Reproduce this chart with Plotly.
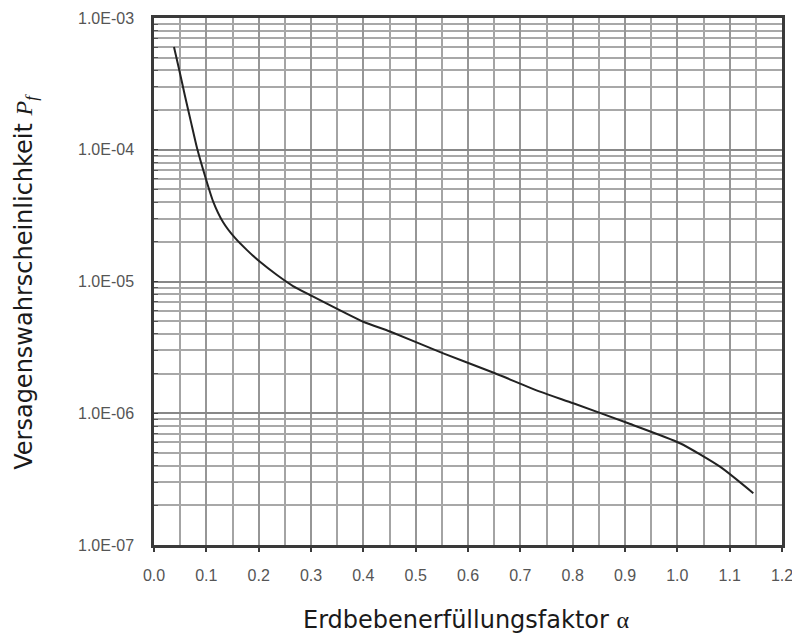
import plotly.graph_objects as go

# Data
alpha = [0.0382, 0.0478, 0.0592, 0.0707, 0.0822, 0.0975, 0.1127, 0.1318, 0.1548, 0.1777,
         0.2025, 0.235, 0.2656, 0.2981, 0.3999, 0.451, 0.5528, 0.6516, 0.7376, 0.8012,
         0.9063, 1.0051, 1.0815, 1.1452]
pf = [6.02e-4, 4.10e-4, 2.56e-4, 1.62e-4, 1.03e-4, 6.32e-5, 4.08e-5, 2.83e-5, 2.14e-5, 1.73e-5,
      1.41e-5, 1.12e-5, 9.24e-6, 7.90e-6, 4.95e-6, 4.17e-6, 2.85e-6, 2.01e-6, 1.46e-6, 1.19e-6,
      8.39e-7, 5.92e-7, 3.93e-7, 2.47e-7]

x_ticks = [0.0, 0.1, 0.2, 0.3, 0.4, 0.5, 0.6, 0.7, 0.8, 0.9, 1.0, 1.1, 1.2]
x_ticktext = ["0.0", "0.1", "0.2", "0.3", "0.4", "0.5", "0.6", "0.7", "0.8", "0.9", "1.0", "1.1", "1.2"]
x_minor = [0.05, 0.15, 0.25, 0.35, 0.45, 0.55, 0.65, 0.75, 0.85, 0.95, 1.05, 1.15]
y_ticks = [1e-7, 1e-6, 1e-5, 1e-4, 1e-3]
y_ticktext = ["1.0E-07", "1.0E-06", "1.0E-05", "1.0E-04", "1.0E-03"]
y_minor = [m * d for d in [1e-7, 1e-6, 1e-5, 1e-4] for m in range(2, 10)]

x_title = "Erdbebenerfüllungsfaktor <span style='font-family:Liberation Serif'>α</span>"
y_title = ("Versagenswahrscheinlichkeit <span style='font-family:Liberation Serif'><i>P</i></span>"
           "<sub><span style='font-family:Liberation Serif'><i>f</i></span></sub>")

fig = go.Figure()
fig.add_trace(go.Scatter(
    x=alpha, y=pf, mode="lines",
    line=dict(color="#222222", width=2, shape="spline", smoothing=0.6),
    showlegend=False, hoverinfo="skip",
))

tickfont = dict(family="Liberation Sans, Arial, sans-serif", size=16, color="#555555")
titlefont = dict(family="DejaVu Sans, sans-serif", size=24, color="#1a1a1a")

# The page body adds an 8px offset; the figure is sized to fit the 800x634 window.
fig.update_layout(
    width=792, height=626,
    margin=dict(l=146, r=18, t=10, b=89),
    paper_bgcolor="white", plot_bgcolor="white",
    xaxis=dict(
        range=[0, 1.2], tickmode="array", tickvals=x_ticks, ticktext=x_ticktext,
        tickfont=tickfont, automargin=False,
        showgrid=True, gridcolor="#969696", gridwidth=2,
        minor=dict(tickmode="array", tickvals=x_minor, showgrid=True,
                   gridcolor="#a4a4a4", gridwidth=2),
        showline=True, linecolor="#3a3a3a", linewidth=2.5, mirror=True,
        ticks="outside", ticklen=4, tickcolor="#3a3a3a", tickwidth=1.5,
        ticklabelstandoff=10,
        zeroline=False,
    ),
    yaxis=dict(
        type="log", range=[-7, -3], tickmode="array", tickvals=y_ticks, ticktext=y_ticktext,
        tickfont=tickfont, automargin=False,
        showgrid=True, gridcolor="#888888", gridwidth=2,
        minor=dict(tickmode="array", tickvals=y_minor, showgrid=True,
                   gridcolor="#a8a8a8", gridwidth=1.5,
                   ticks="inside", ticklen=4, tickcolor="#555555"),
        showline=True, linecolor="#3a3a3a", linewidth=2.5, mirror=True,
        ticks="inside", ticklen=4, tickcolor="#3a3a3a",
        ticklabelstandoff=14,
        zeroline=False,
    ),
    annotations=[
        dict(text=x_title, xref="paper", yref="paper", x=0.498, y=-0.143,
             xanchor="center", yanchor="middle", showarrow=False, font=titlefont),
        dict(text=y_title, xref="paper", yref="paper", x=-0.205, y=0.5,
             xanchor="center", yanchor="middle", textangle=-90, showarrow=False, font=titlefont),
    ],
)

fig.write_html("out.html")
